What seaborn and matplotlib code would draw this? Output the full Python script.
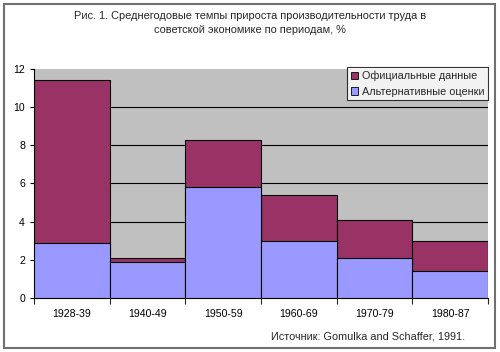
import numpy as np
import pandas as pd
import matplotlib.pyplot as plt
import seaborn as sns
from matplotlib.patches import Rectangle, Patch

# Data
periods = ["1928-39", "1940-49", "1950-59", "1960-69", "1970-79", "1980-87"]
official = [11.4, 2.1, 8.3, 5.4, 4.1, 3.0]
alternative = [2.9, 1.9, 5.8, 3.0, 2.1, 1.4]

red = "#993366"
blue = "#9999FF"

sns.set_style("white")
plt.rcParams['font.family'] = ['Liberation Sans', 'DejaVu Sans']

df = pd.DataFrame({"period": periods, "official": official, "alternative": alternative})

fig = plt.figure(figsize=(5, 3.52), dpi=100)
ax = fig.add_axes([0.068, 0.1534, 0.908, 0.6506])
ax.set_facecolor("#C0C0C0")

# horizontal grid lines
for yv in [2, 4, 6, 8, 10]:
    ax.axhline(yv, color="black", lw=0.8, zorder=0.5)

sns.barplot(data=df, x="period", y="official", color=red, width=1.0,
            edgecolor="black", linewidth=0.8, saturation=1, ax=ax, zorder=2)
sns.barplot(data=df, x="period", y="alternative", color=blue, width=1.0,
            edgecolor="black", linewidth=0.8, saturation=1, ax=ax, zorder=3)

ax.set_xlim(-0.5, len(periods) - 0.5)
ax.set_ylim(0, 12)
ax.set_yticks(range(0, 13, 2))
ax.set_xlabel("")
ax.set_ylabel("")
ax.tick_params(axis="both", labelsize=7.6, colors="black")
ax.tick_params(axis="x", length=0, pad=8)
ax.tick_params(axis="y", length=3, width=0.8, direction="out", left=True)
ax.set_xticks(np.arange(-0.5, len(periods), 1.0), minor=True)
ax.tick_params(axis="x", which="minor", length=4, width=0.8, direction="out", bottom=True)

for side in ["top", "right"]:
    ax.spines[side].set_visible(False)
for side in ["left", "bottom"]:
    ax.spines[side].set_visible(True)
    ax.spines[side].set_color("black")
    ax.spines[side].set_linewidth(0.8)

handles = [Patch(facecolor=red, edgecolor="black", lw=0.6, label="Официальные данные"),
           Patch(facecolor=blue, edgecolor="black", lw=0.6, label="Альтернативные оценки")]
leg = fig.legend(handles=handles, loc="upper right", bbox_to_anchor=(0.976, 0.81),
                 fontsize=7.8, frameon=True, fancybox=False, edgecolor="black",
                 handlelength=0.7, handleheight=0.7, handletextpad=0.3,
                 borderpad=0.35, labelspacing=0.5, borderaxespad=0)
leg.get_frame().set_linewidth(0.8)
leg.set_zorder(10)

fig.text(0.5, 0.934, "Рис. 1. Среднегодовые темпы прироста производительности труда в\n"
         "советской экономике по периодам, %", ha="center", va="center",
         fontsize=7.9, linespacing=1.45)
fig.text(0.93, 0.045, "Источник: Gomulka and Schaffer, 1991.", ha="right",
         va="center", fontsize=7.8)

# outer frame
fig.patches.append(Rectangle((0.008, 0.011), 0.982, 0.978, transform=fig.transFigure,
                             fill=False, edgecolor="#707070", lw=1.5))

fig.savefig("out.png", dpi=100)
